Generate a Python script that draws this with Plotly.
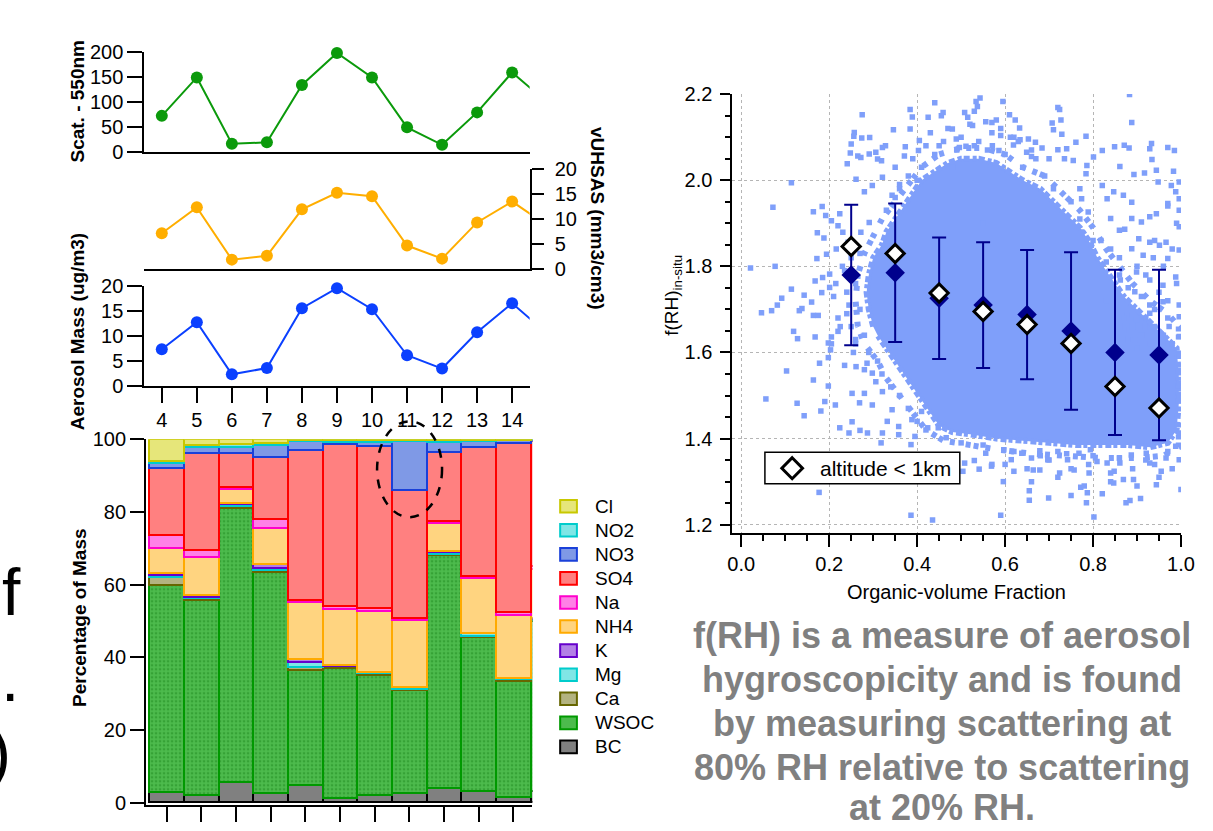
import plotly.graph_objects as go

W, H = 1213, 831
SQ, OFF = 0.9747, 10.2  # vertical mapping of the captured picture


def fx(px):
    return px / W


def fy(py):
    return 1 - ((py - OFF) / SQ) / H


FONT = "Liberation Sans, Arial, sans-serif"

# ---------------- time series (days) ----------------
days = [4, 5, 6, 7, 8, 9, 10, 11, 12, 13, 14, 15]
scat_550 = [73, 150, 17, 20, 135, 199, 150, 50, 15, 80, 160, 100]
vuhsas = [7.15, 12.3, 1.9, 2.65, 11.9, 15.2, 14.5, 4.7, 2.1, 9.3, 13.45, 8.7]
aer_mass = [7.3, 12.7, 2.3, 3.55, 15.5, 19.5, 15.3, 6.1, 3.45, 10.7, 16.5, 10.4]
day_ticks = [4, 5, 6, 7, 8, 9, 10, 11, 12, 13, 14]

# ---------------- composition (% of mass), bottom -> top ----------------
species = ["BC", "WSOC", "Ca", "Mg", "K", "NH4", "Na", "SO4", "NO3", "NO2", "Cl"]
BC   = [2.8, 1.9, 5.5, 2.6, 4.9, 1.2, 1.9, 2.7, 3.9, 3.0, 1.4, 3.0]
WSOC = [56.9, 53.8, 75.6, 60.9, 31.4, 35.9, 33.2, 28.3, 64.2, 42.5, 32.1, 47.0]
Ca   = [2.4, 0.5, 0.5, 0.5, 0.9, 0.3, 0.4, 0.3, 0.3, 0.4, 0.5, 0.3]
Mg   = [0.4, 0.3, 0.6, 0.5, 1.4, 0.2, 0.4, 0.4, 0.6, 0.7, 0.2, 0.3]
K    = [0.6, 0.5, 0.1, 1.1, 0.8, 0.1, 0.1, 0.1, 0.1, 0.1, 0.1, 0.2]
NH4  = [7.0, 10.5, 3.9, 10.0, 15.7, 15.6, 16.8, 18.4, 7.7, 15.0, 17.3, 13.5]
Na   = [3.5, 2.0, 0.6, 2.3, 0.5, 0.7, 0.6, 0.6, 0.5, 0.6, 0.7, 0.7]
SO4  = [18.3, 26.6, 9.3, 17.1, 41.4, 44.6, 44.7, 35.2, 19.2, 35.6, 46.7, 34.5]
NO3  = [1.6, 1.6, 1.6, 3.4, 2.5, 0.6, 1.2, 13.5, 2.7, 1.5, 0.6, 0.3]
NO2  = [0.5, 0.6, 0.9, 0.4, 0.3, 0.5, 0.4, 0.2, 0.4, 0.2, 0.2, 0.1]
Cl   = [6.0, 1.7, 1.4, 1.2, 0.2, 0.3, 0.3, 0.3, 0.4, 0.4, 0.2, 0.1]
legend_order = ["Cl", "NO2", "NO3", "SO4", "Na", "NH4", "K", "Mg", "Ca", "WSOC", "BC"]

# ---------------- f(RH) vs organic volume fraction ----------------
ovf_bins = [0.25, 0.35, 0.45, 0.55, 0.65, 0.75, 0.85, 0.95]
frh_mean = [1.78, 1.785, 1.726, 1.71, 1.688, 1.65, 1.60, 1.594]
frh_sd = [0.163, 0.161, 0.141, 0.146, 0.15, 0.183, 0.192, 0.198]
frh_low_alt = [1.846, 1.83, 1.738, 1.695, 1.665, 1.621, 1.521, 1.471]

# dense core of the point cloud (outline) and its fuzzy fringe
core_x = [0.30, 0.29, 0.285, 0.29, 0.30, 0.32, 0.33, 0.35, 0.37, 0.39, 0.41, 0.44, 0.47, 0.50,
          0.54, 0.58, 0.61, 0.64, 0.68, 0.71, 0.74, 0.77, 0.79, 0.81, 0.83, 0.85, 0.87, 0.90,
          0.93, 0.96, 0.99, 0.995, 0.995, 0.99, 0.97, 0.93, 0.88, 0.82, 0.76, 0.70, 0.64, 0.58,
          0.52, 0.48, 0.45, 0.43, 0.41, 0.39, 0.37, 0.35, 0.33, 0.31]
core_y = [1.66, 1.70, 1.74, 1.78, 1.82, 1.85, 1.88, 1.91, 1.94, 1.97, 2.00, 2.02, 2.04, 2.05,
          2.05, 2.04, 2.02, 2.00, 1.98, 1.95, 1.92, 1.89, 1.86, 1.82, 1.79, 1.76, 1.73, 1.70,
          1.67, 1.64, 1.61, 1.55, 1.48, 1.42, 1.39, 1.38, 1.385, 1.385, 1.385, 1.39, 1.395, 1.40,
          1.41, 1.415, 1.43, 1.46, 1.49, 1.52, 1.55, 1.58, 1.61, 1.64]
fringe_x = [0.265, 0.26, 0.265, 0.28, 0.30, 0.32, 0.35, 0.38, 0.41, 0.45, 0.50, 0.55, 0.60,
            0.64, 0.69, 0.73, 0.77, 0.80, 0.83, 0.86, 0.89, 0.93, 0.97, 0.995, 0.995, 0.96,
            0.90, 0.82, 0.74, 0.66, 0.58, 0.51, 0.46, 0.42, 0.39, 0.36, 0.33, 0.31, 0.28, 0.265]
fringe_y = [1.66, 1.72, 1.78, 1.83, 1.87, 1.91, 1.95, 1.99, 2.03, 2.06, 2.075, 2.075, 2.06,
            2.03, 2.01, 1.97, 1.93, 1.89, 1.84, 1.80, 1.76, 1.72, 1.69, 1.66, 1.38, 1.36,
            1.355, 1.355, 1.36, 1.365, 1.375, 1.385, 1.395, 1.42, 1.46, 1.50, 1.54, 1.58, 1.62, 1.66]

# individual points around the core
cloud_x = [
    0.275, 0.384, 0.389, 0.425, 0.455, 0.459, 0.480, 0.384, 0.346, 0.257, 0.256, 0.274, 0.292, 0.250,
    0.248, 0.265, 0.272, 0.291, 0.306, 0.310, 0.319, 0.321, 0.328, 0.373, 0.241, 0.261, 0.371, 0.405,
    0.403, 0.114, 0.072, 0.164, 0.184, 0.192, 0.173, 0.188, 0.205, 0.224, 0.220, 0.231, 0.021, 0.077,
    0.172, 0.194, 0.216, 0.185, 0.168, 0.201, 0.114, 0.092, 0.082, 0.069, 0.046, 0.143, 0.160, 0.138,
    0.183, 0.201, 0.280, 0.298, 0.321, 0.343, 0.243, 0.272, 0.291,
    0.543, 0.534, 0.537, 0.595, 0.508, 0.515, 0.526, 0.556, 0.570, 0.610, 0.623, 0.633, 0.612, 0.619,
    0.634, 0.649, 0.660, 0.669, 0.684, 0.707, 0.710, 0.727, 0.729, 0.720, 0.724, 0.761, 0.784, 0.740,
    0.720, 0.735, 0.755, 0.786, 0.801, 0.821, 0.849, 0.871, 0.882, 0.883, 0.888, 0.929, 0.933, 0.970,
    0.985, 0.861, 0.893, 0.917, 0.934, 0.944, 0.983, 0.996, 0.948, 0.978, 0.996, 0.996, 0.996, 0.996,
    0.988, 0.970, 0.944, 0.929, 0.910, 0.888, 0.888, 0.869, 0.847, 0.832, 0.821, 0.840, 0.860, 0.872,
    0.904, 0.929, 0.951, 0.966, 0.888, 0.914, 0.937, 0.970, 0.988, 0.996, 0.818, 0.796, 0.774, 0.789,
    0.774, 0.770, 0.784, 0.899, 0.929, 0.959, 0.862, 0.895, 0.959, 0.929, 0.489, 0.496, 0.511, 0.571,
    0.590, 0.586, 0.653,
    0.132, 0.164, 0.175, 0.119, 0.128, 0.168, 0.198, 0.205, 0.220, 0.203, 0.198, 0.103, 0.178, 0.261,
    0.286, 0.164, 0.198, 0.056, 0.127, 0.143, 0.181, 0.190, 0.214, 0.252, 0.269, 0.280, 0.298, 0.224,
    0.245, 0.270, 0.287, 0.252, 0.321, 0.318, 0.358, 0.386, 0.395, 0.424, 0.448, 0.466, 0.177, 0.386,
    0.435, 0.298, 0.306, 0.321, 0.332, 0.343, 0.358, 0.388, 0.410,
    0.590, 0.802, 0.655, 0.655, 0.699, 0.750, 0.772, 0.785, 0.787, 0.821, 0.875, 0.884, 0.908, 1.000,
    0.944, 0.596, 0.620, 0.664, 0.679, 0.724, 0.757, 0.791, 0.847, 0.848, 0.869, 0.892, 0.955, 0.996,
    0.541, 0.569, 0.530, 0.614, 0.660, 0.697, 0.742, 0.809, 0.832, 0.861, 0.929, 0.966, 0.504, 0.508,
    0.556, 0.597, 0.638, 0.679, 0.720, 0.768, 0.794, 0.887, 0.921, 0.988, 0.996, 0.996, 0.996, 0.996,
    0.996, 0.996, 0.973, 0.959, 0.918, 0.895, 0.899, 0.869, 0.877, 0.929,
    0.23, 0.25, 0.26, 0.24, 0.27, 0.22, 0.25, 0.28, 0.26, 0.29, 0.31, 0.32, 0.34, 0.36, 0.38, 0.40,
    0.42, 0.33, 0.35, 0.36, 0.38, 0.41, 0.44, 0.35, 0.39, 0.42, 0.46, 0.50, 0.53, 0.56, 0.60, 0.64,
    0.69, 0.71, 0.75, 0.77, 0.80, 0.83, 0.86, 0.88, 0.91, 0.94, 0.97, 0.50, 0.55, 0.62, 0.68, 0.74,
    0.80, 0.86, 0.92, 0.97,
    0.83, 0.85, 0.87, 0.89, 0.91, 0.93, 0.86, 0.88, 0.90, 0.92, 0.94, 0.96, 0.98, 0.97, 0.95, 0.99,
    0.92, 0.90, 0.86, 0.84, 0.96, 0.98, 0.94, 0.99, 0.97, 0.235, 0.215, 0.245, 0.225, 0.205, 0.255,
    0.235, 0.27, 0.21, 0.24, 0.26, 0.28, 0.43, 0.47, 0.52, 0.57, 0.62, 0.66, 0.45, 0.49, 0.54, 0.59,
    0.63, 0.67, 0.70, 0.48, 0.58, 0.53, 0.44, 0.40, 0.36, 0.55, 0.60, 0.65, 0.70, 0.75, 0.79, 0.84,
    0.89, 0.94, 0.98, 0.57, 0.66, 0.72, 0.78, 0.84, 0.90, 0.95]
cloud_y = [
    2.152, 2.164, 2.147, 2.146, 2.150, 2.157, 2.119, 2.119, 2.117, 2.111, 2.102, 2.098, 2.099, 2.084,
    2.063, 2.056, 2.053, 2.061, 2.065, 2.049, 2.045, 2.076, 2.080, 2.078, 2.038, 2.002, 2.056, 2.092,
    2.069, 1.994, 1.937, 1.927, 1.939, 1.918, 1.878, 1.866, 1.906, 1.922, 1.894, 1.879, 1.796, 1.800,
    1.818, 1.828, 1.840, 1.774, 1.766, 1.782, 1.747, 1.726, 1.710, 1.697, 1.692, 1.733, 1.717, 1.702,
    1.739, 1.751, 1.973, 1.988, 2.007, 1.965, 1.856, 1.879, 1.902,
    2.191, 2.183, 2.171, 2.183, 2.157, 2.146, 2.127, 2.136, 2.134, 2.152, 2.140, 2.121, 2.100, 2.082,
    2.094, 2.065, 2.055, 2.088, 2.075, 2.133, 2.117, 2.140, 2.107, 2.169, 2.164, 2.088, 2.102, 2.073,
    2.071, 2.050, 2.046, 2.034, 2.054, 2.069, 2.078, 2.081, 2.075, 2.199, 2.134, 2.073, 2.085, 2.076,
    2.069, 2.032, 2.013, 2.017, 2.048, 2.023, 2.021, 1.996, 1.996, 1.988, 1.957, 1.930, 1.892, 1.838,
    1.973, 1.946, 1.922, 1.915, 1.903, 1.911, 1.949, 1.965, 1.973, 1.957, 1.988, 1.911, 1.884, 1.886,
    1.864, 1.856, 1.849, 1.856, 1.841, 1.826, 1.820, 1.818, 1.775, 1.710, 1.860, 1.849, 1.880, 1.926,
    1.957, 1.980, 2.015, 1.787, 1.768, 1.756, 1.768, 1.741, 1.718, 1.710, 2.096, 2.076, 2.079, 2.080,
    2.104, 2.069, 2.096,
    1.697, 1.686, 1.686, 1.649, 1.632, 1.636, 1.622, 1.636, 1.649, 1.606, 1.588, 1.557, 1.575, 1.567,
    1.575, 1.536, 1.522, 1.492, 1.482, 1.453, 1.464, 1.486, 1.478, 1.505, 1.483, 1.505, 1.478, 1.425,
    1.413, 1.419, 1.413, 1.439, 1.413, 1.390, 1.409, 1.386, 1.405, 1.425, 1.425, 1.402, 1.275, 1.222,
    1.211, 1.552, 1.532, 1.509, 1.440, 1.467, 1.428, 1.444, 1.463,
    1.222, 1.218, 1.279, 1.257, 1.262, 1.268, 1.287, 1.251, 1.274, 1.272, 1.251, 1.256, 1.261, 1.282,
    1.293, 1.300, 1.324, 1.327, 1.327, 1.320, 1.327, 1.320, 1.297, 1.324, 1.305, 1.305, 1.324, 1.351,
    1.329, 1.336, 1.349, 1.351, 1.355, 1.351, 1.351, 1.347, 1.343, 1.343, 1.343, 1.355, 1.324, 1.343,
    1.366, 1.374, 1.366, 1.372, 1.370, 1.366, 1.374, 1.362, 1.366, 1.382, 1.413, 1.498, 1.529, 1.591,
    1.637, 1.683, 1.660, 1.621, 1.660, 1.629, 1.676, 1.652, 1.687, 1.691,
    1.80, 1.82, 1.76, 1.74, 1.70, 1.68, 1.66, 1.64, 1.62, 1.60, 1.58, 1.55, 1.52, 1.50, 1.47, 1.44,
    1.42, 1.93, 1.96, 1.99, 2.01, 2.03, 2.06, 2.03, 2.05, 2.08, 2.09, 2.10, 2.08, 2.07, 2.06, 2.03,
    2.01, 1.98, 1.95, 1.91, 1.86, 1.81, 1.78, 1.75, 1.73, 1.70, 1.68, 1.39, 1.385, 1.37, 1.36, 1.365,
    1.36, 1.355, 1.35, 1.37,
    1.72, 1.70, 1.68, 1.66, 1.64, 1.62, 1.66, 1.63, 1.61, 1.68, 1.66, 1.64, 1.62, 1.72, 1.74, 1.76,
    1.78, 1.80, 1.82, 1.84, 1.80, 1.84, 1.86, 1.90, 1.94, 1.79, 1.76, 1.71, 1.66, 1.62, 1.60, 1.57,
    1.83, 1.73, 1.69, 1.63, 1.56, 2.11, 2.12, 2.13, 2.11, 2.10, 2.07, 2.08, 2.07, 2.09, 2.12, 2.09,
    2.05, 2.05, 2.03, 2.14, 2.16, 2.18, 2.00, 1.98, 1.90, 1.34, 1.33, 1.35, 1.33, 1.34, 1.32, 1.33,
    1.34, 1.33, 1.34, 1.30, 1.31, 1.29, 1.30, 1.29, 1.31, 1.30]

# ---------------- styling ----------------
species_data = {"BC": BC, "WSOC": WSOC, "Ca": Ca, "Mg": Mg, "K": K, "NH4": NH4, "Na": Na,
                "SO4": SO4, "NO3": NO3, "NO2": NO2, "Cl": Cl}
species_style = {
    "Cl": ("#e6e67a", "#c8c800"),
    "NO2": ("#80e6e6", "#00cccc"),
    "NO3": ("#7f99e6", "#1a40d9"),
    "SO4": ("#ff8080", "#ff0000"),
    "Na": ("#ff80e6", "#ff00cc"),
    "NH4": ("#ffd480", "#ffaa00"),
    "K": ("#b380e6", "#6600cc"),
    "Mg": ("#80e6e6", "#00cccc"),
    "Ca": ("#b3b380", "#666600"),
    "WSOC": ("#4dbb4d", "#009900"),
    "BC": ("#808080", "#000000"),
}
CLOUD = "#7f9ffa"
NAVY = "#00008c"

fig = go.Figure()

# line panels
line_panels = [("x", "y", scat_550, "#0b9a0b"), ("x2", "y2", vuhsas, "#ffae00"), ("x3", "y3", aer_mass, "#0b40ff")]
for xa, ya, vals, col in line_panels:
    fig.add_trace(go.Scatter(x=days, y=vals, mode="lines", line=dict(color=col, width=2),
                             xaxis=xa, yaxis=ya, showlegend=False, hoverinfo="skip"))
    fig.add_trace(go.Scatter(x=days[:-1], y=vals[:-1], mode="markers",
                             marker=dict(color=col, size=12), cliponaxis=False,
                             xaxis=xa, yaxis=ya, showlegend=False))

# stacked bars
for sp in species:
    fill, edge = species_style[sp]
    marker = dict(color=fill, line=dict(color=edge, width=2))
    if sp == "WSOC":
        marker["pattern"] = dict(shape=".", fgcolor="#1f8a1f", size=4, solidity=0.35, fillmode="overlay")
    fig.add_trace(go.Bar(x=days, y=species_data[sp], width=1.0, marker=marker, name=sp,
                         xaxis="x4", yaxis="y4", showlegend=False))

# scatter panel
fig.add_trace(go.Scatter(x=fringe_x, y=fringe_y, mode="lines",
                         line=dict(color=CLOUD, width=6, dash="5px,7px,5px,3px,5px,11px"),
                         xaxis="x5", yaxis="y5", showlegend=False, hoverinfo="skip"))
fig.add_trace(go.Scatter(x=core_x, y=core_y, mode="lines", fill="toself", fillcolor=CLOUD,
                         line=dict(color=CLOUD, width=6, dash="6px,3px,4px,2px"),
                         xaxis="x5", yaxis="y5", showlegend=False, hoverinfo="skip"))
fig.add_trace(go.Scatter(x=cloud_x, y=cloud_y, mode="markers",
                         marker=dict(symbol="square", size=5.5, color=CLOUD),
                         xaxis="x5", yaxis="y5", showlegend=False))
fig.add_trace(go.Scatter(x=ovf_bins, y=frh_mean, mode="markers",
                         marker=dict(symbol="diamond", size=15, color=NAVY),
                         error_y=dict(type="data", array=frh_sd, color=NAVY, thickness=2, width=7),
                         xaxis="x5", yaxis="y5", showlegend=False))
fig.add_trace(go.Scatter(x=ovf_bins, y=frh_low_alt, mode="markers", name="altitude &lt; 1km",
                         marker=dict(symbol="diamond", size=14, color="white",
                                     line=dict(color="black", width=3)),
                         xaxis="x5", yaxis="y5", showlegend=False, cliponaxis=False))

tickfont = dict(family=FONT, size=20, color="black")
axbase = dict(showline=True, linecolor="black", linewidth=2, showgrid=False, zeroline=False,
              tickcolor="black", tickwidth=2, tickfont=tickfont)
xdom = [fx(141.5), fx(533)]

layout = dict(
    width=W, height=H, margin=dict(l=0, r=0, t=0, b=0),
    paper_bgcolor="white", plot_bgcolor="rgba(0,0,0,0)",
    barmode="stack", bargap=0,
    font=dict(family=FONT, color="black"),
    showlegend=False,
    xaxis=dict(axbase, domain=xdom, range=[3.5, 14.5], anchor="y", ticks="", showticklabels=False),
    yaxis=dict(axbase, domain=[fy(151.7), fy(51.7)], range=[0, 200], anchor="x",
               tickvals=[0, 50, 100, 150, 200], ticks="outside", ticklen=15),
    xaxis2=dict(axbase, domain=xdom, range=[3.5, 14.5], anchor="y2", ticks="", showticklabels=False),
    yaxis2=dict(axbase, domain=[fy(268.7), fy(168)], range=[0, 20], anchor="x2", side="right",
                tickvals=[0, 5, 10, 15, 20], ticks="outside", ticklen=12, ticklabelstandoff=7),
    xaxis3=dict(axbase, domain=xdom, range=[3.5, 14.5], anchor="y3", ticks="outside", ticklen=15,
                tickvals=day_ticks),
    yaxis3=dict(axbase, domain=[fy(385.5), fy(285.2)], range=[0, 20], anchor="x3",
                tickvals=[0, 5, 10, 15, 20], ticks="outside", ticklen=15),
    xaxis4=dict(axbase, domain=[fx(143.3), fx(535.8)], range=[3.4, 14.55], anchor="y4",
                ticks="outside", ticklen=15, tickvals=day_ticks, showticklabels=False),
    yaxis4=dict(axbase, domain=[fy(805), fy(439)], range=[-0.6, 100], anchor="x4",
                tickvals=[0, 20, 40, 60, 80, 100], ticks="outside", ticklen=14),
    xaxis5=dict(axbase, domain=[fx(739), fx(1194.7)], range=[-0.0201, 1.0], anchor="y5",
                tick0=0, dtick=0.2, tickformat=".1f", ticks="outside", ticklen=12, tickwidth=1.5,
                showgrid=True, gridcolor="#b5b5b5", griddash="dot", gridwidth=1,
                minor=dict(dtick=0.05, ticks="outside", ticklen=6, tickcolor="black", tickwidth=1.5,
                           showgrid=False)),
    yaxis5=dict(axbase, domain=[fy(533.3), fy(93.4)], range=[1.1796, 2.2], anchor="x5",
                tick0=0, dtick=0.2, tickformat=".1f", ticks="outside", ticklen=10, tickwidth=1.5,
                ticklabelstandoff=4,
                showgrid=True, gridcolor="#b5b5b5", griddash="dot", gridwidth=1,
                minor=dict(dtick=0.05, ticks="outside", ticklen=5, tickcolor="black", tickwidth=1.5,
                           showgrid=False)),
)
fig.update_layout(**layout)

shapes = []
annotations = []

# dashed ellipse around day 11
shapes.append(dict(type="circle", xref="paper", yref="paper", x0=fx(378), x1=fx(444),
                   y0=fy(517), y1=fy(421), line=dict(color="black", width=2.5, dash="dash")))

# bar legend
for i, sp in enumerate(legend_order):
    cy = 506 + 24.1 * i
    fill, edge = species_style[sp]
    shapes.append(dict(type="rect", xref="paper", yref="paper", x0=fx(564), x1=fx(581),
                       y0=fy(cy + 6.3), y1=fy(cy - 6.3), fillcolor=fill,
                       line=dict(color=edge, width=2)))
    annotations.append(dict(text=sp, x=fx(597), y=fy(cy), xref="paper", yref="paper",
                            xanchor="left", yanchor="middle", showarrow=False,
                            font=dict(family=FONT, size=19, color="black")))

# scatter legend box
shapes.append(dict(type="rect", xref="paper", yref="paper", x0=fx(772), x1=fx(970),
                   y0=fy(483.5), y1=fy(452), fillcolor="white", line=dict(color="black", width=1.5)))
dcx, dcy, dr = 799.7, 468.0, 10.5
shapes.append(dict(type="path", xref="paper", yref="paper",
                   path=(f"M {fx(dcx)},{fy(dcy - dr)} L {fx(dcx + dr)},{fy(dcy)} "
                         f"L {fx(dcx)},{fy(dcy + dr)} L {fx(dcx - dr)},{fy(dcy)} Z"),
                   fillcolor="white", line=dict(color="black", width=3)))
annotations.append(dict(text="altitude &lt; 1km", x=fx(826), y=fy(468), xref="paper", yref="paper",
                        xanchor="left", yanchor="middle", showarrow=False,
                        font=dict(family=FONT, size=21, color="black")))


def title(text, x, y, angle, size=19):
    annotations.append(dict(text=text, x=fx(x), y=fy(y), xref="paper", yref="paper",
                            xanchor="center", yanchor="middle", textangle=angle, showarrow=False,
                            font=dict(family=FONT, size=size, color="black")))


title("<b>Scat. - 550nm</b>", 74, 100, -90)
title("<b>Aerosol Mass (ug/m3)</b>", 74, 331, -90)
title("<b>vUHSAS (mm3/cm3)</b>", 602, 218, 90)
title("<b>Percentage of Mass</b>", 75, 618, -90)
title("f(RH)<sub>in-situ</sub>", 679, 295, -90, 19)
title("Organic-volume Fraction", 967, 592, 0, 20)

# descriptive text
desc = ["f(RH) is a measure of aerosol", "hygroscopicity and is found",
        "by measuring scattering at", "80% RH relative to scattering", "at 20% RH."]
desc_y = [635, 680, 724, 768, 808]
for t, yy in zip(desc, desc_y):
    annotations.append(dict(text="<b>" + t + "</b>", x=fx(952), y=fy(yy), xref="paper", yref="paper",
                            xanchor="center", yanchor="middle", showarrow=False,
                            font=dict(family=FONT, size=36, color="#808080")))

# fragments of neighbouring slide text at left edge
for t, xx, yy in [("f", 18, 592), (".", 16, 678), (")", 8, 752)]:
    annotations.append(dict(text=t, x=fx(xx), y=fy(yy), xref="paper", yref="paper",
                            xanchor="right", yanchor="middle", showarrow=False,
                            font=dict(family=FONT, size=66, color="black")))

fig.update_layout(shapes=shapes, annotations=annotations)
fig.write_html("out.html")
